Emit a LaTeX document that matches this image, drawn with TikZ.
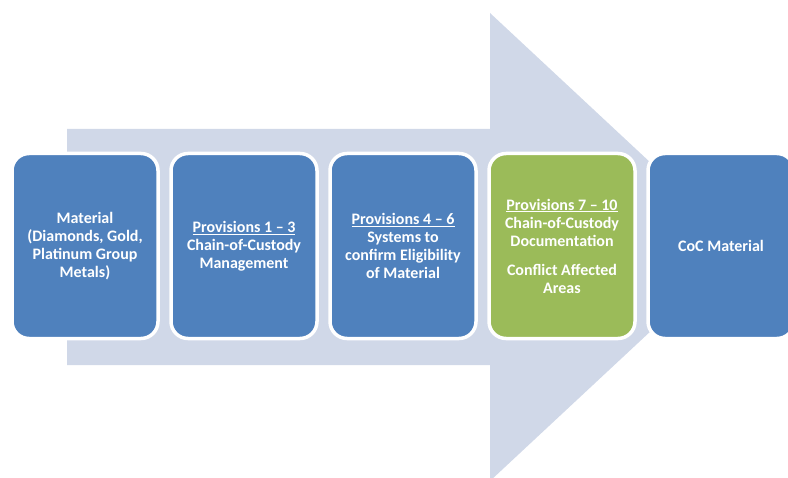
\documentclass[tikz,border=0pt]{standalone}
\usepackage{fontspec}
\setmainfont{Carlito}
\usepackage{tikz}
\usetikzlibrary{positioning}
\definecolor{StageBlue}{RGB}{79,129,189}
\definecolor{StageGreen}{RGB}{155,187,89}
\definecolor{FlowGrey}{RGB}{208,216,232}

\begin{document}
\begin{tikzpicture} [x=1bp, y=-1bp, node distance=13bp,
	   every node/.style={font=\fontsize{16bp}{18bp}\selectfont\bfseries},
	   stagebox/.style = {rectangle, rounded corners=17bp, minimum width=146bp,
	                      minimum height=185bp, line width=3.5bp, draw=white,
	                      fill=#1, text=white, align=center, outer sep=0pt}]
	\useasboundingbox (0,0) rectangle (788,478);
	%% Background arrow
	\fill [FlowGrey] (67,129) -- (490,129) -- (490,13) -- (741,247)
	                 -- (490,481) -- (490,365) -- (67,365) -- cycle;

	%% Stages
	\node [stagebox=StageBlue, anchor=west] (material) at (12,246)
	      {Material\\(Diamonds, Gold,\\Platinum Group\\Metals)};
	\node [stagebox=StageBlue, right=of material] (prov13)
	      {\underline{Provisions 1 – 3}\\Chain-of-Custody\\Management};
	\node [stagebox=StageBlue, right=of prov13] (prov46)
	      {\underline{Provisions 4 – 6}\\Systems to\\confirm Eligibility\\of Material};
	\node [stagebox=StageGreen, right=of prov46] (prov710)
	      {\underline{Provisions 7 – 10}\\Chain-of-Custody\\Documentation\\[11bp]Conflict Affected\\Areas};
	\node [stagebox=StageBlue, right=of prov710] (cocmat) {CoC Material};
\end{tikzpicture}
\end{document}
